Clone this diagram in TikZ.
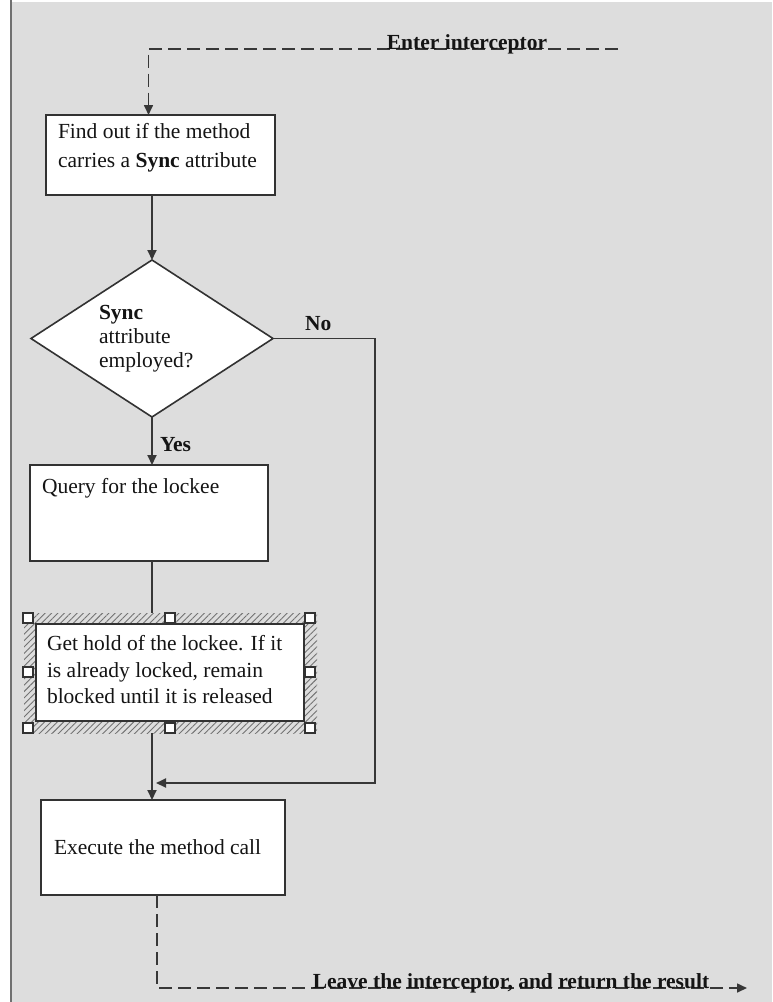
\documentclass[tikz,border=0pt]{standalone}
\usepackage{fontspec}
\setmainfont{Liberation Serif}
\usetikzlibrary{arrows.meta,shapes.geometric,patterns.meta}
\definecolor{bgc}{RGB}{221,221,221}
\definecolor{edgec}{RGB}{112,112,112}
\definecolor{boxc}{RGB}{50,50,50}
\definecolor{linec}{RGB}{55,55,55}
\definecolor{txtc}{RGB}{20,20,20}
\definecolor{hatchc}{RGB}{115,115,115}
\begin{document}
\begin{tikzpicture}[x=1pt,y=-1pt,
  every node/.style={inner sep=0pt, outer sep=0pt},
  box/.style={rectangle, draw=boxc, line width=1.7pt, fill=white},
  txt/.style={font=\fontsize{21.5}{29}\selectfont, align=left, text=txtc},
  lbl/.style={font=\fontsize{21.5}{24}\selectfont\bfseries, text=txtc},
  conn/.style={draw=linec, line width=1.9pt},
  arr/.style={conn, -{Triangle[length=10pt,width=9pt]}},
  dsh/.style={draw=linec, line width=1.6pt, dash pattern=on 13pt off 6pt},
  dsharr/.style={dsh, -{Triangle[length=10pt,width=9pt]}},
  handle/.style={rectangle, draw=boxc, fill=white, line width=1.1pt, minimum size=10pt}]
\useasboundingbox (0,0) rectangle (772,1002);
% background
\fill[white] (0,0) rectangle (772,1002);
\fill[bgc] (10,2) rectangle (772,1002);
\draw[edgec, line width=2.5pt] (11,0) -- (11,1002);

% entry
\coordinate (ein) at (618,49);
\node[box, minimum width=229pt, minimum height=80pt] (b1) at (160.5,155) {};
\node[txt, anchor=west] (t1) at (58,148) {Find out if the method\\carries a \textbf{Sync} attribute};
\draw[dsharr] (ein) -| ([xshift=-12pt]b1.north);
\node[lbl, anchor=base] (enter) at (467,49) {Enter interceptor};

% decision
\node[diamond, draw=boxc, line width=1.6pt, fill=white, minimum width=242pt, minimum height=157pt] (d) at (152,338.5) {};
\node[txt, anchor=west, font=\fontsize{21.5}{24}\selectfont] (dt) at (99,339) {\textbf{Sync}\\attribute\\employed?};
\draw[arr] (b1.south -| d.north) -- (d.north);
\node[lbl, anchor=base west] (no) at (305,330) {No};
\node[lbl, anchor=base west] (yes) at (160,451) {Yes};

% query
\node[box, minimum width=238pt, minimum height=96pt] (q) at (149,513) {};
\node[txt, anchor=west] (qt) at (42,488) {Query for the lockee};
\draw[arr] (d.south) -- (d.south |- q.north);

% hatched selected box
\node[rectangle, minimum width=293pt, minimum height=120pt, pattern={Lines[angle=45,distance=4.5pt,line width=0.9pt]}, pattern color=hatchc] (hf) at (170.5,673) {};
\node[box, minimum width=268pt, minimum height=97pt] (h) at (170,672.5) {};
\node[txt, anchor=west, font=\fontsize{21.5}{26.5}\selectfont] (ht) at (47,670) {Get hold of the lockee. If it\\is already locked, remain\\blocked until it is released};
\foreach \i/\x/\y in {1/28/618,2/170/618,3/310/618,4/28/672,5/310/672,6/28/728,7/170/728,8/310/728}
  \node[handle] (hd\i) at (\x,\y) {};
\draw[conn] (d.south |- q.south) -- (d.south |- hf.north);

% execute
\node[box, minimum width=244pt, minimum height=95pt] (e) at (163,847.5) {};
\node[txt, anchor=west] (et) at (54,847) {Execute the method call};
\draw[arr] (d.south |- hf.south) -- (d.south |- e.north);
\coordinate (join) at (156,783);
\draw[arr] (d.east) -- ++(102,0) |- (join);

% exit
\coordinate (eout) at (747,988);
\draw[dsharr] ([xshift=-6pt]e.south) |- (eout);
\node[lbl, anchor=base] (leave) at (511,988) {Leave the interceptor, and return the result};
\end{tikzpicture}
\end{document}
